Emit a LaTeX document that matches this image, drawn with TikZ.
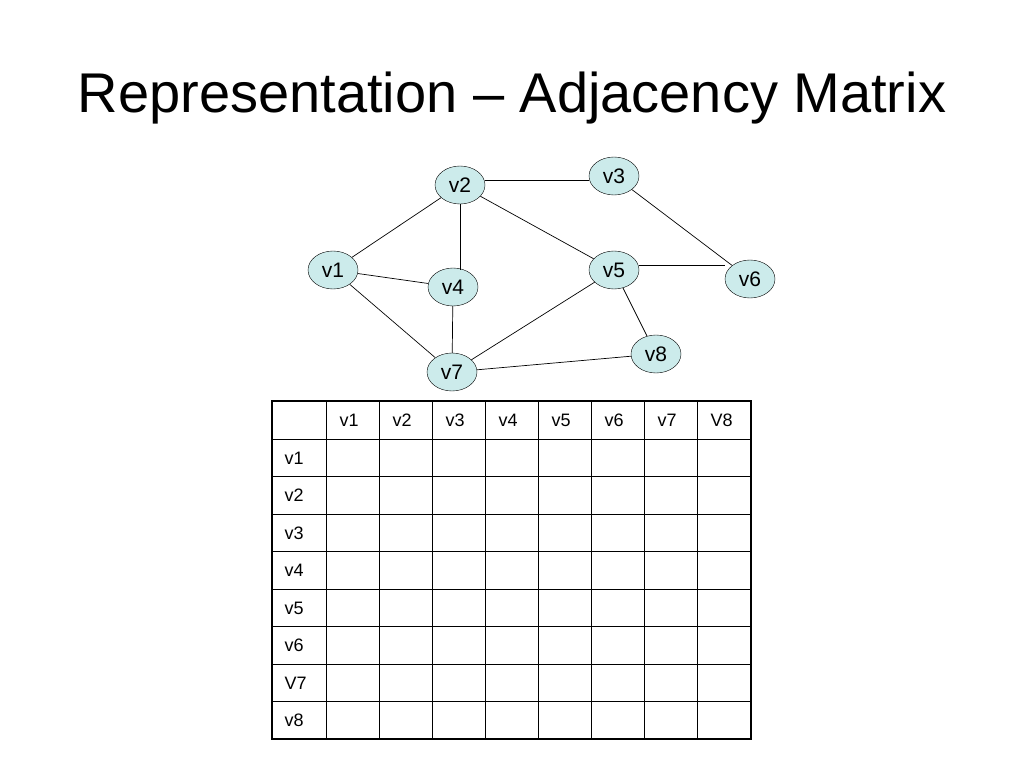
\documentclass[tikz,border=0pt]{standalone}
\usepackage{fontspec}
\setmainfont{Liberation Sans}
\usetikzlibrary{shapes.geometric}
\definecolor{nfill}{HTML}{CCEBEB}
\begin{document}
\begin{tikzpicture}[x=1pt,y=-1pt,
  vert/.style={ellipse,draw,fill=nfill,minimum width=50pt,minimum height=38pt,inner sep=0pt,font=\fontsize{21}{23}\selectfont},
  edge/.style={draw,line width=0.7pt},
  cell/.style={font=\fontsize{18}{20}\selectfont}]
\useasboundingbox (0,0) rectangle (1024,768);
\node[font=\fontsize{56}{62}\selectfont] (title) at (512,98) {Representation – Adjacency Matrix};
\node[vert] (v2) at (460,185) {v2};
\node[vert] (v3) at (614,176) {v3};
\node[vert] (v1) at (333,270) {v1};
\node[vert] (v4) at (453,287) {v4};
\node[vert] (v5) at (614,270) {v5};
\node[vert] (v6) at (750,279) {v6};
\node[vert] (v8) at (656,354) {v8};
\node[vert] (v7) at (452,372) {v7};
\foreach \a/\b in {v2/v1,v2/v5,v3/v6,v1/v4,v1/v7,v4/v7,v5/v7,v5/v8,v7/v8}
  \draw[edge] (\a) -- (\b);
\draw[edge] (v2.east |- 0,180) -- (v3.west |- 0,180);
\draw[edge] (460,204) -- (460,270);
\draw[edge] (v5.east |- 0,265) -- (v6.west |- 0,265);
% table
\foreach \x in {326,379,432,485,538,591,644,697}
  \draw[line width=0.8pt] (\x,401) -- (\x,739);
\foreach \y in {439,476,514,551,589,626,664,701}
  \draw[line width=0.8pt] (272,\y) -- (751,\y);
\draw[line width=2pt] (272,401) rectangle (751,739);
\foreach \t [count=\i] in {v1,v2,v3,v4,v5,v6,v7,V8}
  \node[cell,anchor=west] (c\i) at (326+53*\i-53+10,420) {\t};
\foreach \t/\y [count=\i] in {v1/458,v2/495,v3/533,v4/570,v5/608,v6/645,V7/683,v8/720}
  \node[cell,anchor=west] (r\i) at (281,\y) {\t};
\end{tikzpicture}
\end{document}
